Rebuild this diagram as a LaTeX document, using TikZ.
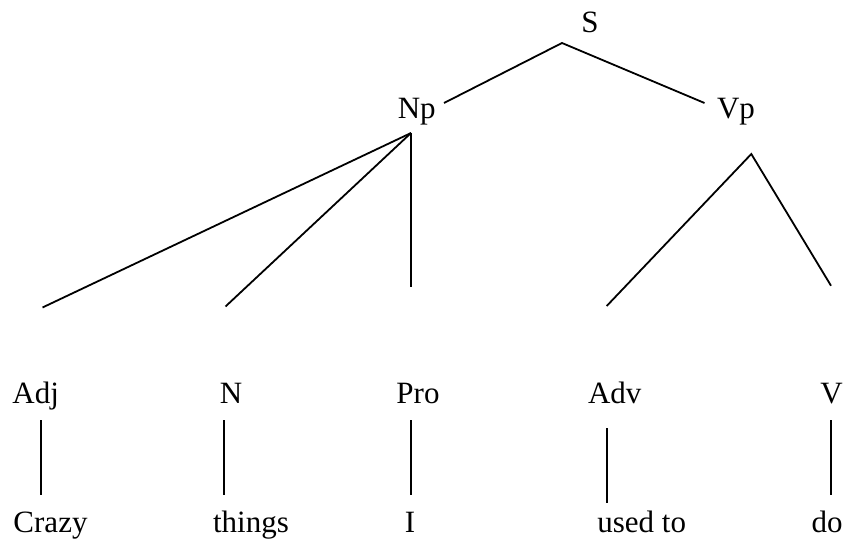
\documentclass[tikz,border=0pt]{standalone}
\usepackage{fontspec}
\setmainfont{Liberation Serif}
\begin{document}
\begin{tikzpicture}[x=1bp,y=-1bp,
  lbl/.style={anchor=base,inner sep=0pt,font=\fontsize{31bp}{37bp}\selectfont},
  conn/.style={line width=1.8bp}]
\useasboundingbox (0,0) rectangle (846,542);
% labels
\node[lbl] (S)   at (590,32.5)  {S};
\node[lbl] (Np)  at (416.7,118.5) {Np};
\node[lbl] (Vp)  at (736,118.5) {Vp};
\node[lbl] (Adj) at (35.7,403.3) {Adj};
\node[lbl] (N)   at (231,403.3) {N};
\node[lbl] (Pro) at (418,403.3) {Pro};
\node[lbl] (Adv) at (614.7,403.3) {Adv};
\node[lbl] (V)   at (831.5,403.3) {V};
\node[lbl] (Crazy)  at (50.5,532) {Crazy};
\node[lbl] (things) at (251,532) {things};
\node[lbl] (I)      at (410,532) {I};
\node[lbl] (usedto) at (641.7,532.7) {used to};
\node[lbl] (do)     at (827.2,532.7) {do};
% connector end points
\coordinate (S-b)   at (562,43);
\coordinate (Np-t)  at (444,103);
\coordinate (Vp-t)  at (704.5,103);
\coordinate (Np-b)  at (411,133);
\coordinate (Adj-t) at (42.5,307.5);
\coordinate (N-t)   at (225.5,306.5);
\coordinate (Pro-t) at (411,287.5);
\coordinate (Vp-b)  at (751.3,154);
\coordinate (Adv-t) at (606.7,306);
\coordinate (V-t)   at (831,285.7);
\coordinate (Adj-b) at (40.7,420);
\coordinate (Crazy-t) at (40.7,495);
\coordinate (N-b)   at (223.7,420);
\coordinate (things-t) at (223.7,495);
\coordinate (Pro-b) at (410.7,420);
\coordinate (I-t)   at (410.7,495);
\coordinate (Adv-b) at (606.7,428);
\coordinate (usedto-t) at (606.7,503);
\coordinate (V-b)   at (830.7,420);
\coordinate (do-t)  at (830.7,495);
% connectors
\draw[conn] (Np-t) -- (S-b) -- (Vp-t);
\draw[conn] (Np-b) -- (Adj-t);
\draw[conn] (Np-b) -- (N-t);
\draw[conn] (Np-b) -- (Pro-t);
\draw[conn] (Adv-t) -- (Vp-b) -- (V-t);
\draw[conn] (Adj-b) -- (Crazy-t);
\draw[conn] (N-b) -- (things-t);
\draw[conn] (Pro-b) -- (I-t);
\draw[conn] (Adv-b) -- (usedto-t);
\draw[conn] (V-b) -- (do-t);
\end{tikzpicture}
\end{document}
